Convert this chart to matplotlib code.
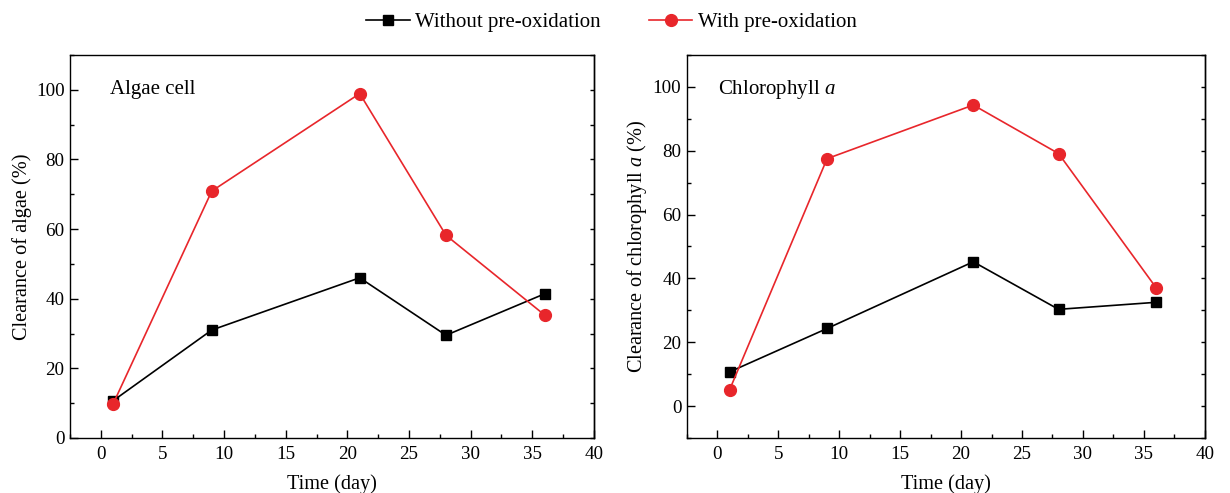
import matplotlib
matplotlib.use("Agg")
import matplotlib.pyplot as plt
from matplotlib.ticker import MultipleLocator, NullFormatter

plt.rcParams['font.family'] = ['Liberation Serif', 'DejaVu Serif']
plt.rcParams['mathtext.fontset'] = 'custom'
plt.rcParams['mathtext.rm'] = 'Liberation Serif'
plt.rcParams['mathtext.it'] = 'Liberation Serif:italic'

days = [1, 9, 21, 28, 36]
algae_without = [10.7, 31.0, 46.0, 29.5, 41.4]
algae_with = [9.8, 70.9, 98.9, 58.2, 35.3]
chl_without = [10.7, 24.3, 45.2, 30.3, 32.5]
chl_with = [5.1, 77.5, 94.3, 79.1, 37.1]

series_labels = ["Without pre-oxidation", "With pre-oxidation"]
panel_titles = ["Algae cell", "Chlorophyll $a$"]
ylabels = ["Clearance of algae (%)", "Clearance of chlorophyll $a$ (%)"]
xlabel = "Time (day)"

fig = plt.figure(figsize=(12.3, 4.93), dpi=100)
ax1 = fig.add_axes([0.0569, 0.1116, 0.426, 0.777])
ax2 = fig.add_axes([0.5585, 0.1116, 0.421, 0.777])

TICK_FS = 13.7
LABEL_FS = 14.6
TEXT_FS = 15
for ax, yw, yr, title, yl, ylim, tx in [
    (ax1, algae_without, algae_with, panel_titles[0], ylabels[0], (0, 110), 0.076),
    (ax2, chl_without, chl_with, panel_titles[1], ylabels[1], (-10, 110), 0.06),
]:
    ax.plot(days, yw, color='black', lw=1.2, marker='s', ms=7.5,
            label=series_labels[0])
    ax.plot(days, yr, color='#e8262b', lw=1.2, marker='o', ms=8.5,
            label=series_labels[1])
    ax.set_xlim(-2.5, 40)
    ax.set_ylim(*ylim)
    ax.xaxis.set_major_locator(MultipleLocator(5))
    ax.xaxis.set_minor_locator(MultipleLocator(2.5))
    ax.yaxis.set_major_locator(MultipleLocator(20))
    ax.yaxis.set_minor_locator(MultipleLocator(10))
    ax.tick_params(which='both', direction='in', right=False, top=False,
                   labelsize=TICK_FS, width=1.0)
    ax.tick_params(which='major', length=6, pad=4)
    ax.tick_params(axis='x', which='major', pad=6)
    ax.tick_params(which='minor', length=3)
    for s in ax.spines.values():
        s.set_linewidth(1.0)
    sec = ax.secondary_yaxis('right')
    sec.yaxis.set_major_locator(MultipleLocator(10))
    sec.yaxis.set_major_formatter(NullFormatter())
    sec.tick_params(which='both', direction='in', length=3, width=1.0)
    sec.spines['right'].set_linewidth(1.0)
    ax.set_xlabel(xlabel, fontsize=LABEL_FS, labelpad=8)
    ax.set_ylabel(yl, fontsize=LABEL_FS, labelpad=3)
    ax.text(tx, 0.909, title, transform=ax.transAxes, fontsize=TEXT_FS,
            va='center', ha='left')

handles, labels = ax1.get_legend_handles_labels()
fig.legend(handles, labels, loc='center', bbox_to_anchor=(0.497, 0.955),
           ncol=2, frameon=False, fontsize=TEXT_FS, handlelength=2.1,
           columnspacing=2.3, handletextpad=0.25, borderpad=0.0)

fig.savefig("out.png", dpi=100)
